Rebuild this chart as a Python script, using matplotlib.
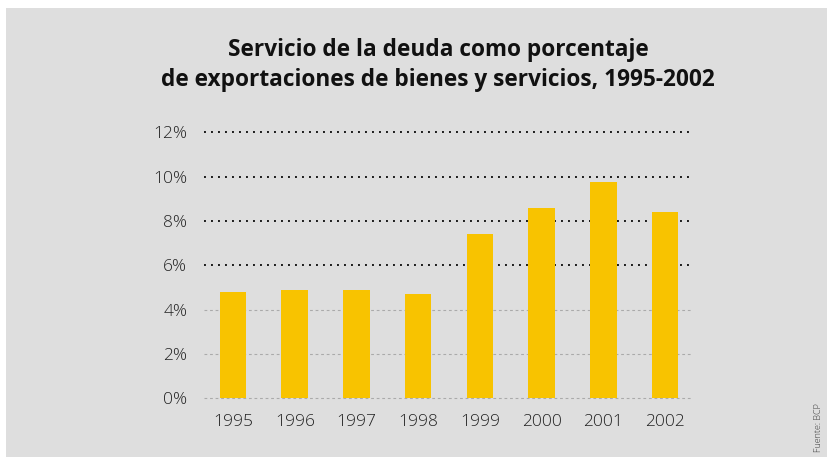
import matplotlib
matplotlib.use("Agg")
import matplotlib.pyplot as plt
from matplotlib.patches import Rectangle

years = ["1995", "1996", "1997", "1998", "1999", "2000", "2001", "2002"]
values = [4.80, 4.89, 4.89, 4.71, 7.42, 8.59, 9.77, 8.41]
yticks = [0, 2, 4, 6, 8, 10, 12]
ytick_labels = ["0%", "2%", "4%", "6%", "8%", "10%", "12%"]
title = "Servicio de la deuda como porcentaje\nde exportaciones de bienes y servicios, 1995-2002"
source = "Fuente: BCP"

W, H = 828, 459
fig = plt.figure(figsize=(W / 100, H / 100), dpi=100, facecolor="white")
fig.patches.append(Rectangle((6 / W, 2 / H), (W - 6) / W, 449 / H,
                             transform=fig.transFigure, facecolor="#dedede",
                             edgecolor="none", zorder=-10))

ax = fig.add_axes([204 / W, 1 - 398.3 / H, (691 - 204) / W, (398.3 - 132.5) / H])
ax.set_facecolor("none")
x = list(range(len(years)))
ax.bar(x, values, width=0.43, color="#f8c300", zorder=3)
ax.set_xlim(-0.47, 7.42)
ax.set_ylim(0, 12)

for v in yticks:
    if v >= 6:
        ax.axhline(v, color="#1a1a1a", linestyle=(0, (1, 2.6)), linewidth=1.4, zorder=1, clip_on=False)
    else:
        ax.axhline(v, color="#aaaaaa", linestyle=(0, (2.5, 2.5)), linewidth=0.8, zorder=1, clip_on=False)

ax.set_yticks(yticks)
ax.set_yticklabels(ytick_labels)
ax.set_xticks(x)
ax.set_xticklabels(years)
ax.tick_params(axis="both", length=0, labelsize=12.5, labelcolor="#222222")
ax.tick_params(axis="y", pad=12)
ax.tick_params(axis="x", pad=11)
for lab in ax.get_xticklabels() + ax.get_yticklabels():
    lab.set_family(["Open Sans", "DejaVu Sans"])
    lab.set_fontweight("light")
for s in ax.spines.values():
    s.set_visible(False)

fig.text(438 / W, 1 - 65 / H, title, ha="center", va="center", fontsize=16.3,
         fontweight="bold", family=["Open Sans", "DejaVu Sans"], color="#111111",
         linespacing=1.35)
fig.text(819 / W, 1 - 428 / H, source, rotation=90, ha="center", va="center",
         fontsize=6.5, fontweight="light", color="#333333", family=["Open Sans", "DejaVu Sans"])

fig.savefig("out.png", dpi=100, facecolor="white")
